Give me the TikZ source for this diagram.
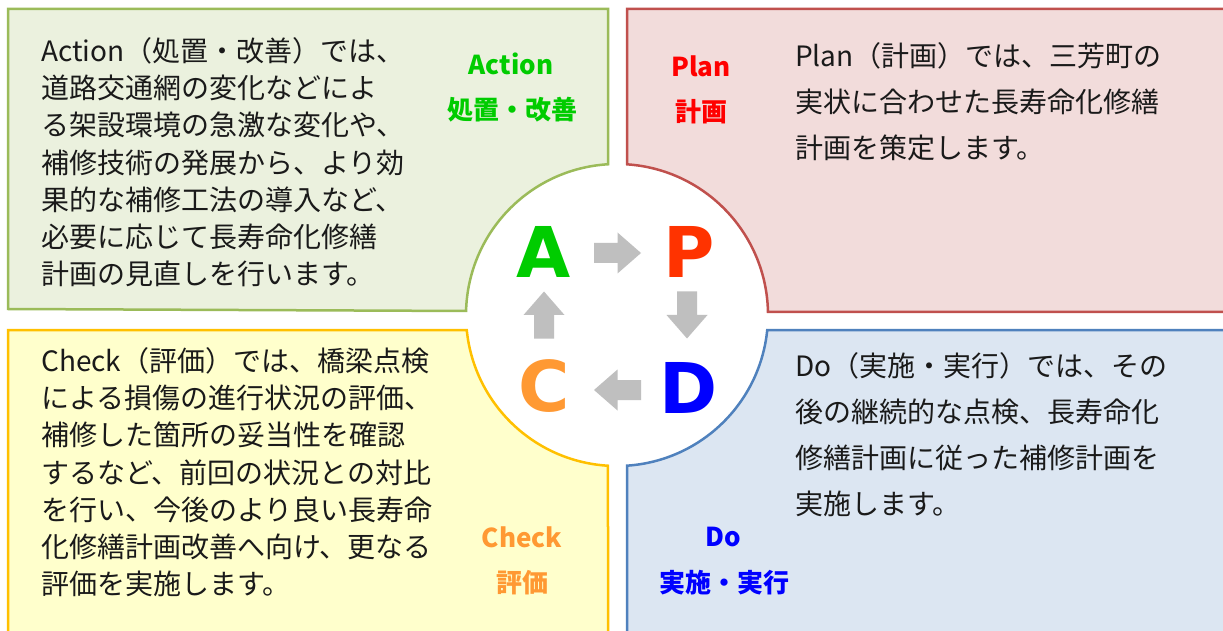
\documentclass[tikz,border=0pt]{standalone}
\usepackage{fontspec}
\newfontfamily\jp{Noto Sans CJK JP}
\newfontfamily\dv{DejaVu Sans}
\definecolor{gBorder}{HTML}{9BBB59}
\definecolor{gFill}{HTML}{EBF1DE}
\definecolor{rBorder}{HTML}{C0504D}
\definecolor{rFill}{HTML}{F2DCDB}
\definecolor{yBorder}{HTML}{FFC000}
\definecolor{yFill}{HTML}{FFFFCC}
\definecolor{bBorder}{HTML}{4F81BD}
\definecolor{bFill}{HTML}{DCE6F2}
\definecolor{cA}{HTML}{00CC00}
\definecolor{cP}{HTML}{FF3300}
\definecolor{cC}{HTML}{FF9933}
\definecolor{cD}{HTML}{0000FF}
\definecolor{lblA}{HTML}{00CC00}
\definecolor{lblP}{HTML}{FF0000}
\definecolor{lblC}{HTML}{FF9933}
\definecolor{lblD}{HTML}{0000FF}
\definecolor{arrowgray}{HTML}{BFBFBF}
\definecolor{bodytext}{HTML}{1A1A1A}
\tikzset{
  quad/.style={line width=2.5pt, line join=miter},
  bodyA/.style={font=\jp\fontsize{28}{37.3}\selectfont, text=bodytext, align=left, anchor=north west, inner sep=0pt},
  bodyB/.style={font=\jp\fontsize{28}{46}\selectfont, text=bodytext, align=left, anchor=north west, inner sep=0pt},
  lbl/.style={font=\jp\bfseries\fontsize{26}{30}\selectfont, inner sep=0pt, anchor=center},
  bigletter/.style={font=\dv\bfseries\fontsize{70}{70}\selectfont, inner sep=0pt, anchor=center},
  pics/blockarrow/.style={code={
    \fill[arrowgray] (-23.5,-10) -- (0,-10) -- (0,-20.5) -- (23.5,0) -- (0,20.5) -- (0,10) -- (-23.5,10) -- cycle;
  }}
}
\begin{document}
\begin{tikzpicture}[x=1pt,y=1pt]
\useasboundingbox (0,0) rectangle (1223,630);
\clip (0,0) rectangle (1223,630);
\fill[white] (0,0) rectangle (1223,630);
% Action (green) box
\draw[quad, draw=gBorder, fill=gFill] (8,321) -- (8,621) -- (608,621) -- (608,465.73)
  arc[start angle=93.42, end angle=178.48, radius=151] -- cycle;
% Plan (red) box
\draw[quad, draw=rBorder, fill=rFill] (627,465.67) -- (627,621) -- (1235,621) -- (1235,318) -- (767.97,318)
  arc[start angle=1.14, end angle=86.2, radius=151] -- cycle;
% Check (yellow) box
\draw[quad, draw=yBorder, fill=yFill] (8,-20) -- (8,300) -- (466.75,300)
  arc[start angle=185.7, end angle=266.58, radius=151] -- (608,-20) -- cycle;
% Do (blue) box
\draw[quad, draw=bBorder, fill=bFill] (627,-20) -- (627,164.33)
  arc[start angle=273.8, end angle=354.3, radius=151] -- (1235,300) -- (1235,-20) -- cycle;

% body texts
\node[bodyA] (tA) at (41,593) {Action（処置・改善）では、\\道路交通網の変化などによ\\る架設環境の急激な変化や、\\補修技術の発展から、より効\\果的な補修工法の導入など、\\必要に応じて長寿命化修繕\\計画の見直しを行います。};
\node[bodyB] (tP) at (795,588) {Plan（計画）では、三芳町の\\実状に合わせた長寿命化修繕\\計画を策定します。};
\node[bodyA] (tC) at (41,283) {Check（評価）では、橋梁点検\\による損傷の進行状況の評価、\\補修した箇所の妥当性を確認\\するなど、前回の状況との対比\\を行い、今後のより良い長寿命\\化修繕計画改善へ向け、更なる\\評価を実施します。};
\node[bodyB] (tD) at (795,278) {Do（実施・実行）では、その\\後の継続的な点検、長寿命化\\修繕計画に従った補修計画を\\実施します。};

% labels
\node[lbl, text=lblA] (lA1) at (511,566) {Action};
\node[lbl, text=lblA] (lA2) at (512,520) {処置・改善};
\node[lbl, text=lblP] (lP1) at (701,564) {Plan};
\node[lbl, text=lblP] (lP2) at (701,518) {計画};
\node[lbl, text=lblC] (lC1) at (522,93) {Check};
\node[lbl, text=lblC] (lC2) at (522,47) {評価};
\node[lbl, text=lblD] (lD1) at (723,93) {Do};
\node[lbl, text=lblD] (lD2) at (724,47) {実施・実行};

% central letters
\node[bigletter, text=cA] (A) at (544,378) {A};
\node[bigletter, text=cP] (P) at (689,378) {P};
\node[bigletter, text=cC] (C) at (544,244) {C};
\node[bigletter, text=cD] (D) at (689,242) {D};

% block arrows
\pic at (617.5,377) {blockarrow};
\pic[rotate=-90] at (687,315) {blockarrow};
\pic[rotate=180] at (617.5,240) {blockarrow};
\pic[rotate=90] at (544,315) {blockarrow};
\end{tikzpicture}
\end{document}
